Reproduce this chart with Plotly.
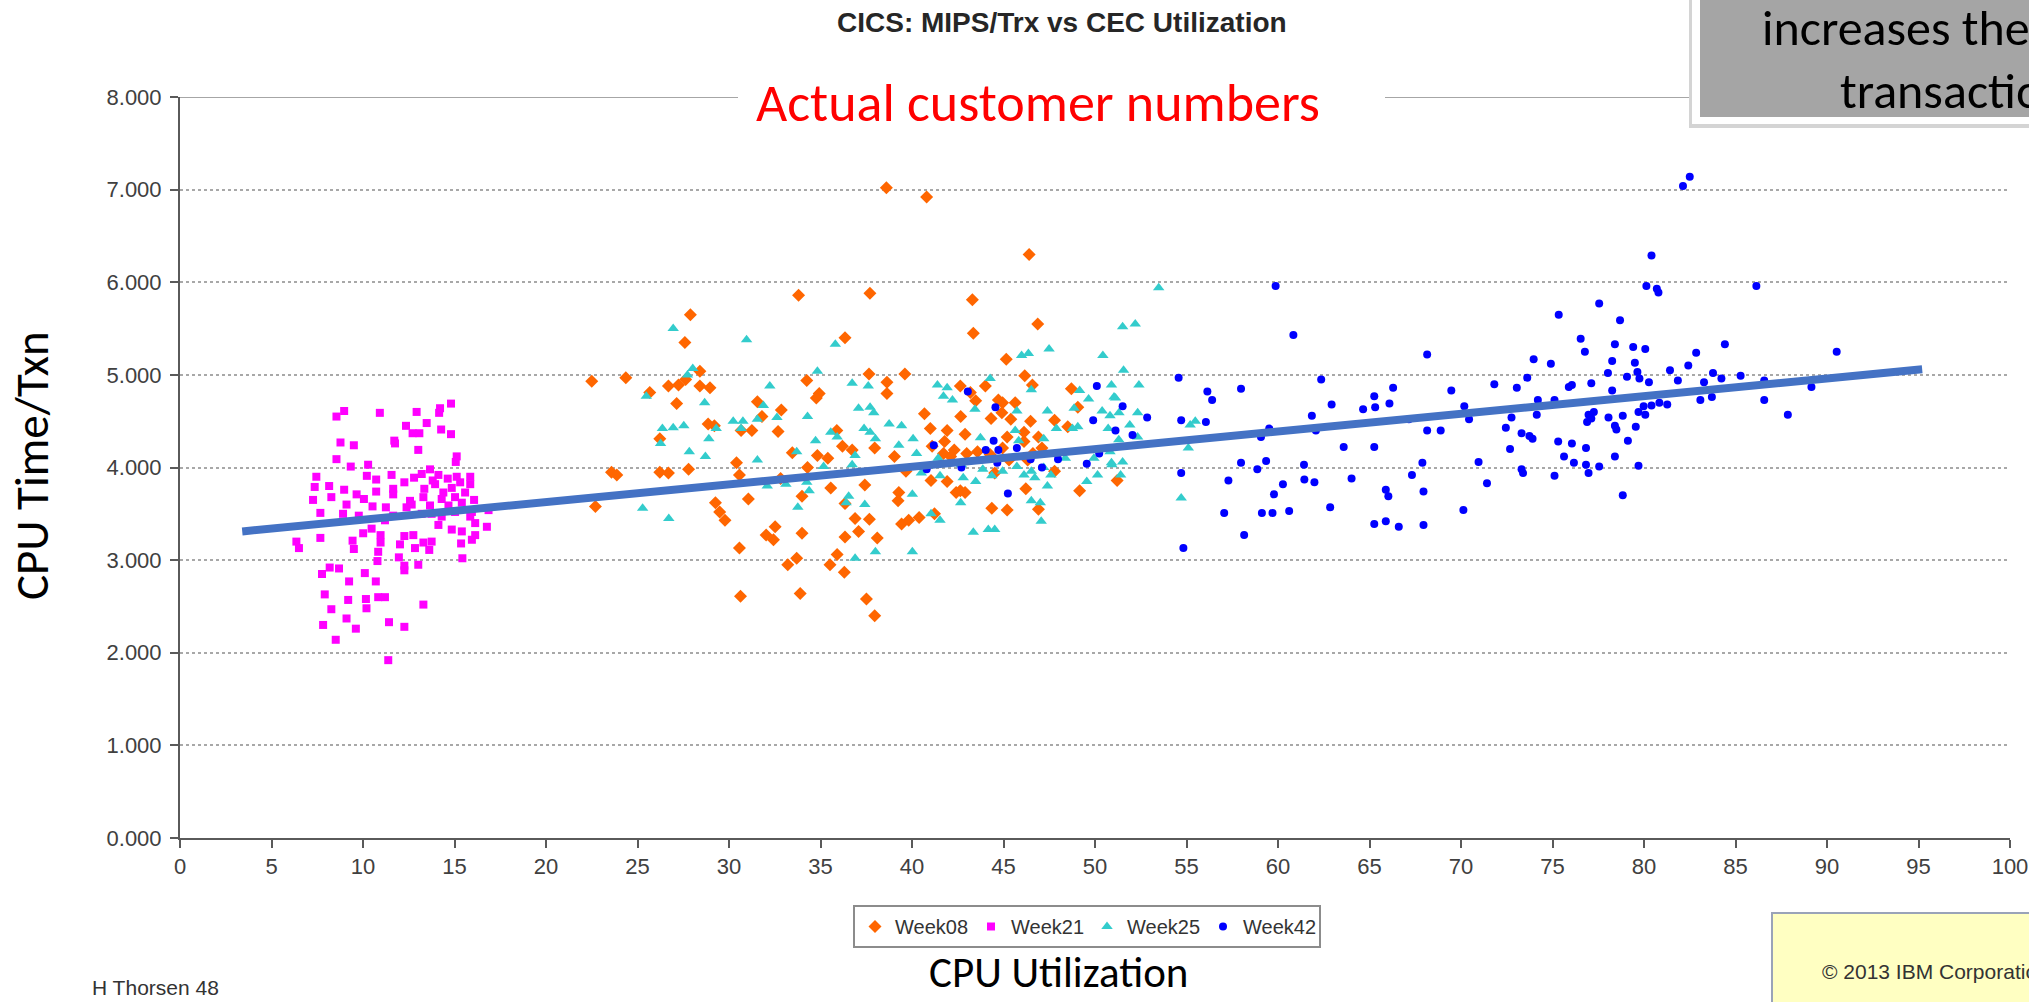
import plotly.graph_objects as go

# ---------------- data (CPU utilization %, CPU time per transaction) ----------------
week08_x = [27.89, 27.59, 36.34, 43.35, 46.87, 45.15, 43.30, 22.50, 24.36, 26.69,
            27.24, 27.63, 28.41, 28.41, 28.96, 25.67, 27.14, 31.55, 34.25, 34.93,
            34.77, 37.65, 38.63, 38.63, 39.61, 42.64, 44.01, 43.19, 43.48, 44.72,
            44.95, 45.64, 46.16, 46.58, 48.71, 49.06, 32.86, 31.80, 40.68, 42.66,
            44.32, 44.91, 45.40, 46.48, 41.00, 41.92, 42.90, 45.20, 46.12, 46.91,
            48.51, 47.79, 26.22, 28.86, 29.20, 30.66, 31.25, 32.68, 35.89, 37.96,
            41.78, 42.31, 43.58, 44.95, 46.12, 46.61, 33.46, 34.83, 35.40, 36.20,
            36.73, 39.04, 41.10, 41.72, 42.11, 42.99, 44.27, 45.30, 46.32, 47.79,
            47.10, 23.58, 23.87, 26.22, 26.69, 27.79, 30.41, 30.57, 32.82, 34.29,
            39.67, 41.04, 41.92, 42.41, 42.90, 44.52, 46.22, 46.91, 49.16, 51.21,
            35.56, 37.42, 39.28, 22.70, 29.26, 31.06, 42.64, 44.36, 45.20, 36.34,
            39.24, 33.99, 29.49, 29.78, 36.89, 37.67, 39.43, 39.82, 40.39, 41.23,
            32.52, 32.03, 32.43, 33.99, 36.34, 37.08, 38.10, 30.57, 35.91, 35.52,
            33.70, 33.21, 36.30, 30.63, 33.89, 37.51, 37.96, 38.60, 40.80, 46.40,
            33.80, 37.70]
week08_y = [5.65, 5.35, 5.40, 5.45, 5.55, 5.17, 5.81, 4.93, 4.97, 4.88,
            4.89, 4.95, 5.04, 4.88, 4.86, 4.81, 4.69, 4.71, 4.94, 4.80,
            4.75, 5.01, 4.92, 4.80, 5.01, 4.88, 4.88, 4.81, 4.72, 4.73,
            4.70, 4.70, 4.99, 4.89, 4.85, 4.65, 4.62, 4.55, 4.58, 4.55,
            4.53, 4.59, 4.52, 4.50, 4.42, 4.40, 4.36, 4.33, 4.38, 4.33,
            4.44, 4.51, 4.31, 4.47, 4.45, 4.40, 4.40, 4.39, 4.40, 4.21,
            4.28, 4.19, 4.17, 4.21, 4.28, 4.15, 4.16, 4.13, 4.10, 4.23,
            4.19, 4.12, 4.23, 4.15, 4.12, 4.15, 4.14, 4.08, 4.08, 3.96,
            4.21, 3.95, 3.92, 3.95, 3.94, 3.98, 4.05, 3.92, 3.88, 4.00,
            3.96, 3.86, 3.85, 3.73, 3.73, 3.94, 3.77, 3.55, 3.75, 3.86,
            3.78, 3.81, 3.73, 3.58, 3.62, 3.66, 3.75, 3.56, 3.54, 3.61,
            3.64, 3.69, 3.52, 3.43, 3.45, 3.44, 3.39, 3.43, 3.46, 3.50,
            3.36, 3.27, 3.22, 3.29, 3.25, 3.31, 3.24, 3.13, 3.06, 2.95,
            3.02, 2.95, 2.87, 2.61, 2.64, 2.58, 2.40, 7.02, 6.92, 6.30,
            5.86, 5.88]

week21_x = [8.97, 8.55, 10.92, 12.93, 14.21, 14.16, 14.81, 12.35, 13.48, 12.71,
            13.08, 14.27, 14.81, 11.71, 11.75, 8.77, 9.50, 13.02, 8.55, 15.12,
            15.07, 9.33, 10.28, 7.45, 10.21, 10.72, 11.56, 12.79, 13.21, 13.66,
            14.12, 13.81, 14.63, 15.12, 15.86, 7.36, 8.15, 8.97, 9.65, 10.72,
            11.65, 12.26, 13.35, 13.94, 14.39, 14.85, 15.31, 15.86, 7.27, 8.27,
            10.05, 9.10, 10.52, 11.25, 11.65, 12.57, 13.30, 14.30, 15.03, 15.58,
            16.07, 7.67, 8.91, 9.77, 12.38, 12.66, 13.66, 14.67, 15.40, 15.95,
            16.86, 10.47, 11.20, 11.65, 13.21, 13.75, 14.30, 15.03, 15.86, 16.13,
            16.77, 6.36, 6.50, 7.67, 9.43, 9.50, 10.01, 10.96, 10.96, 12.02,
            12.26, 12.75, 12.84, 13.30, 13.75, 14.12, 14.85, 15.40, 15.36, 15.95,
            16.13, 10.83, 10.79, 11.96, 12.26, 12.26, 13.02, 13.62, 15.43, 8.18,
            8.69, 7.76, 10.10, 9.24, 10.70, 7.91, 9.19, 10.16, 10.83, 11.20,
            10.19, 13.30, 8.27, 9.10, 11.42, 12.26, 7.82, 9.61, 8.51, 11.38]
week21_y = [4.61, 4.55, 4.59, 4.60, 4.64, 4.59, 4.69, 4.45, 4.48, 4.37,
            4.37, 4.41, 4.36, 4.29, 4.26, 4.27, 4.24, 4.19, 4.09, 4.12,
            4.06, 4.01, 4.03, 3.90, 3.91, 3.87, 3.92, 3.89, 3.93, 3.98,
            3.92, 3.86, 3.88, 3.90, 3.90, 3.79, 3.80, 3.76, 3.71, 3.74,
            3.77, 3.84, 3.77, 3.82, 3.73, 3.78, 3.84, 3.82, 3.65, 3.68,
            3.66, 3.60, 3.58, 3.57, 3.71, 3.64, 3.68, 3.66, 3.68, 3.73,
            3.65, 3.51, 3.50, 3.48, 3.57, 3.60, 3.59, 3.59, 3.62, 3.52,
            3.54, 3.34, 3.43, 3.48, 3.50, 3.50, 3.47, 3.52, 3.47, 3.40,
            3.36, 3.20, 3.13, 3.24, 3.21, 3.12, 3.29, 3.27, 3.19, 3.17,
            3.26, 3.27, 3.13, 3.19, 3.20, 3.38, 3.33, 3.31, 3.18, 3.22,
            3.27, 3.09, 2.99, 3.03, 2.94, 2.89, 2.95, 3.11, 3.02, 2.92,
            2.91, 2.85, 2.86, 2.77, 2.77, 2.63, 2.57, 2.58, 2.60, 2.60,
            2.48, 2.52, 2.47, 2.37, 2.33, 2.28, 2.30, 2.26, 2.14, 1.92]

week25_x = [26.95, 30.96, 35.81, 47.49, 45.99, 46.36, 50.43, 51.51, 34.83, 28.02,
            27.73, 25.48, 28.67, 32.23, 41.39, 41.92, 41.72, 42.21, 44.27, 46.52,
            49.16, 36.73, 37.61, 37.08, 37.71, 37.91, 31.88, 32.62, 34.29, 43.44,
            45.73, 47.40, 48.86, 49.65, 50.39, 50.82, 51.12, 26.36, 26.95, 27.53,
            29.30, 30.23, 30.76, 30.66, 31.55, 28.90, 37.38, 38.00, 38.75, 39.43,
            43.74, 45.64, 45.83, 47.20, 47.89, 48.77, 49.06, 50.72, 51.31, 26.26,
            27.83, 28.71, 31.55, 33.70, 34.73, 35.56, 35.91, 36.89, 37.71, 39.28,
            40.06, 40.25, 41.43, 42.70, 43.87, 44.36, 43.48, 44.95, 45.73, 46.52,
            47.20, 47.59, 48.38, 49.94, 50.92, 40.51, 41.53, 42.80, 35.17, 36.73,
            46.12, 46.71, 47.40, 49.55, 50.14, 32.09, 33.11, 34.25, 34.38, 36.54,
            36.40, 37.42, 40.02, 42.66, 46.52, 47.01, 41.04, 41.53, 33.76, 25.28,
            26.71, 43.35, 44.17, 44.52, 47.06, 38.00, 40.02, 36.89, 51.51, 50.82,
            53.48, 52.20, 51.56, 50.90, 52.40, 51.04, 52.33, 55.48, 55.20, 51.90,
            51.30, 52.33, 50.90, 55.10, 51.40, 54.71]
week25_y = [5.50, 5.38, 5.33, 5.28, 5.21, 5.23, 5.21, 5.52, 5.04, 5.07,
            5.00, 4.77, 4.70, 4.88, 4.89, 4.86, 4.77, 4.73, 4.96, 4.84,
            4.83, 4.91, 4.88, 4.64, 4.65, 4.59, 4.67, 4.54, 4.55, 4.63,
            4.61, 4.61, 4.64, 4.74, 4.61, 4.56, 4.75, 4.42, 4.43, 4.45,
            4.42, 4.50, 4.50, 4.42, 4.52, 4.31, 4.42, 4.31, 4.47, 4.45,
            4.32, 4.40, 4.29, 4.31, 4.42, 4.42, 4.44, 4.42, 4.59, 4.26,
            4.17, 4.12, 4.08, 4.17, 4.29, 4.38, 4.33, 4.13, 4.38, 4.24,
            4.31, 4.15, 4.10, 4.03, 3.98, 3.91, 3.85, 3.96, 4.01, 3.96,
            4.00, 3.92, 4.10, 4.10, 4.03, 3.94, 3.91, 3.89, 4.01, 4.03,
            3.92, 3.89, 3.80, 3.85, 3.92, 3.80, 3.82, 3.84, 3.75, 3.69,
            3.62, 3.60, 3.71, 3.62, 3.64, 3.62, 3.50, 3.43, 3.57, 3.56,
            3.45, 3.30, 3.33, 3.33, 3.42, 3.09, 3.09, 3.02, 4.06, 4.17,
            5.94, 5.55, 5.05, 4.89, 4.89, 4.76, 4.59, 4.50, 4.46, 4.46,
            4.30, 4.33, 4.05, 4.21, 3.92, 3.67]

week42_x = [43.05, 44.56, 50.10, 51.51, 49.90, 51.12, 41.19, 44.03, 44.72, 45.73,
            44.46, 40.80, 42.70, 46.48, 47.10, 47.98, 49.55, 50.23, 45.24, 44.66,
            82.50, 82.13, 80.41, 80.13, 80.70, 80.79, 86.14, 59.87, 77.55, 75.34,
            78.69, 60.84, 76.54, 76.77, 79.41, 80.07, 82.85, 84.42, 90.53, 78.41,
            68.15, 73.97, 74.91, 78.26, 79.50, 78.03, 79.64, 79.75, 81.42, 82.42,
            54.57, 62.36, 73.62, 79.07, 80.27, 81.85, 83.28, 83.77, 84.23, 85.28,
            86.57, 71.82, 73.05, 66.29, 69.47, 75.89, 77.12, 56.14, 56.40, 57.98,
            76.06, 78.26, 89.15, 65.26, 66.09, 62.93, 64.65, 65.31, 70.18, 74.20,
            75.11, 80.84, 81.27, 83.08, 83.71, 86.57, 52.85, 54.71, 56.06, 61.85,
            62.07, 59.07, 59.52, 63.59, 65.26, 67.15, 68.15, 68.89, 70.44, 72.45,
            72.76, 74.14, 73.31, 73.74, 73.91, 76.97, 77.26, 77.12, 78.06, 78.84,
            76.89, 78.41, 78.49, 79.55, 79.70, 80.07, 79.98, 80.41, 87.86, 72.68,
            75.31, 76.06, 75.63, 76.83, 78.41, 79.12, 52.05, 54.71, 57.29, 58.87,
            59.35, 57.98, 61.42, 60.27, 61.44, 61.99, 64.02, 67.32, 67.89, 70.96,
            71.42, 73.31, 73.39, 75.11, 76.17, 76.97, 76.83, 77.55, 79.70, 59.78,
            62.85, 65.89, 66.03, 67.95, 70.13, 78.84, 57.06, 59.12, 59.70, 60.61,
            65.26, 65.89, 66.60, 67.95, 58.15, 54.83]
week42_y = [4.82, 4.65, 4.88, 4.66, 4.51, 4.40, 4.24, 4.19, 4.19, 4.21,
            4.29, 3.98, 4.00, 4.09, 4.00, 4.09, 4.04, 4.15, 3.72, 4.05,
            7.14, 7.04, 6.29, 5.96, 5.93, 5.89, 5.96, 5.96, 5.77, 5.65,
            5.59, 5.43, 5.39, 5.25, 5.30, 5.28, 5.24, 5.33, 5.25, 5.33,
            5.22, 5.17, 5.12, 5.15, 5.13, 5.02, 5.03, 4.96, 5.05, 5.10,
            4.97, 4.95, 4.97, 4.98, 4.92, 4.94, 4.92, 5.02, 4.96, 4.99,
            4.94, 4.90, 4.86, 4.86, 4.83, 4.87, 4.91, 4.82, 4.73, 4.85,
            4.89, 4.83, 4.87, 4.77, 4.69, 4.68, 4.63, 4.65, 4.66, 4.73,
            4.73, 4.70, 4.68, 4.73, 4.76, 4.73, 4.54, 4.51, 4.49, 4.56,
            4.40, 4.33, 4.42, 4.22, 4.22, 4.52, 4.40, 4.40, 4.52, 4.43,
            4.54, 4.57, 4.37, 4.34, 4.31, 4.57, 4.60, 4.53, 4.54, 4.56,
            4.49, 4.45, 4.41, 4.44, 4.60, 4.57, 4.66, 4.67, 4.57, 4.20,
            4.28, 4.26, 4.12, 4.21, 4.12, 4.29, 4.35, 3.94, 3.86, 3.98,
            4.07, 4.05, 4.03, 3.82, 3.87, 3.84, 3.88, 3.92, 4.05, 4.06,
            3.83, 3.98, 3.94, 3.91, 4.05, 3.94, 4.03, 4.01, 4.02, 3.71,
            3.57, 3.76, 3.69, 3.74, 3.54, 3.70, 3.51, 3.51, 3.51, 3.53,
            3.39, 3.42, 3.36, 3.38, 3.27, 3.13]

trend_x = [3.4, 95.2]
trend_y = [3.31, 5.06]

x_ticks = list(range(0, 101, 5))
y_ticks = [0, 1, 2, 3, 4, 5, 6, 7, 8]

# ---------------- figure geometry helpers (pixel -> paper) ----------------
W, H = 2029, 1002
ML, MR, MT, MB = 180, 19, 97, 164
PW, PH = W - ML - MR, H - MT - MB


def px(xp):
    return (xp - ML) / PW


def py(yp):
    return (MT + PH - yp) / PH


CAL = "Carlito, Calibri, Lato, sans-serif"
ARI = "Arial, Liberation Sans, sans-serif"

fig = go.Figure()


def pairs(xs, ys):
    n = min(len(xs), len(ys))
    return xs[:n], ys[:n]


series = [
    ("Week08", week08_x, week08_y, "diamond", "#FF6600", 10),
    ("Week21", week21_x, week21_y, "square", "#FF00FF", 8),
    ("Week25", week25_x, week25_y, "triangle-up", "#33CCCC", 10),
    ("Week42", week42_x, week42_y, "circle", "#0000FF", 8),
]
for name, xs, ys, sym, col, size in series:
    xx, yy = pairs(xs, ys)
    fig.add_trace(go.Scatter(
        x=xx, y=yy, mode="markers", name=name,
        marker=dict(symbol=sym, color=col, size=size, line=dict(width=0)),
    ))

fig.add_trace(go.Scatter(
    x=trend_x, y=trend_y, mode="lines", showlegend=False,
    line=dict(color="#4472C4", width=8), hoverinfo="skip",
))

fig.update_xaxes(
    range=[0, 100], tickvals=x_ticks, ticktext=[str(v) for v in x_ticks],
    showgrid=False, zeroline=False,
    showline=True, linecolor="#5a5a5a", linewidth=2,
    ticks="outside", ticklen=8, tickwidth=1.5, tickcolor="#5a5a5a",
    tickfont=dict(family=ARI, size=22, color="#404040"),
)
fig.update_yaxes(
    range=[0, 8], tickvals=y_ticks, ticktext=["%.3f" % v for v in y_ticks],
    showgrid=True, gridcolor="#a8a8a8", gridwidth=1.5, griddash="dot",
    zeroline=False,
    showline=True, linecolor="#5a5a5a", linewidth=2,
    ticks="outside", ticklen=8, tickwidth=1.5, tickcolor="#5a5a5a",
    ticklabelstandoff=4,
    tickfont=dict(family=ARI, size=22, color="#404040"),
)

shapes = [
    # solid top border at 8.000 (interrupted by the red caption)
    dict(type="line", xref="paper", yref="y", x0=0, x1=px(738), y0=8, y1=8,
         line=dict(color="#a6a6a6", width=2)),
    dict(type="line", xref="paper", yref="y", x0=px(1385), x1=1.0, y0=8, y1=8,
         line=dict(color="#a6a6a6", width=2)),
    # grey call-out box (top right)
    dict(type="rect", xref="paper", yref="paper", x0=px(1689), x1=px(2060),
         y0=py(128), y1=py(-20), fillcolor="#d4d4d4", line=dict(width=0), layer="above"),
    dict(type="rect", xref="paper", yref="paper", x0=px(1692), x1=px(2060),
         y0=py(124), y1=py(-20), fillcolor="#ffffff", line=dict(width=0), layer="above"),
    dict(type="rect", xref="paper", yref="paper", x0=px(1700), x1=px(2060),
         y0=py(117), y1=py(-20), fillcolor="#a5a5a5", line=dict(width=0), layer="above"),
    # yellow footer box (bottom right)
    dict(type="rect", xref="paper", yref="paper", x0=px(1772), x1=px(2060),
         y0=py(1030), y1=py(913), fillcolor="#FFFFC2",
         line=dict(color="#9AA3B8", width=2), layer="above"),
]

annotations = [
    dict(text="<b>CICS: MIPS/Trx vs CEC Utilization</b>", x=px(1062), y=py(22),
         font=dict(family=ARI, size=28, color="#262626")),
    dict(text="Actual customer numbers", x=px(1038), y=py(103),
         font=dict(family=CAL, size=54, color="#FF0000")),
    dict(text="CPU Time/Txn", x=px(32), y=py(466), textangle=-90,
         font=dict(family=CAL, size=47, color="#000000")),
    dict(text="CPU Utilization", x=px(1058), y=py(1001), yanchor="bottom",
         font=dict(family=CAL, size=43, color="#000000")),
    dict(text="H Thorsen 48", x=px(90), y=py(988), xanchor="left",
         font=dict(family=ARI, size=21, color="#333333")),
    dict(text="© 2013 IBM Corporation", x=px(1820), y=py(971), xanchor="left",
         font=dict(family=ARI, size=21, color="#333333")),
    dict(text="increases the", x=px(1760), y=py(27), xanchor="left",
         font=dict(family=CAL, size=50, color="#000000")),
    dict(text="transaction", x=px(1838), y=py(90), xanchor="left",
         font=dict(family=CAL, size=50, color="#000000")),
]
for a in annotations:
    a.setdefault("xanchor", "center")
    a.setdefault("yanchor", "middle")
    a.update(xref="paper", yref="paper", showarrow=False)

fig.update_layout(
    width=W, height=H,
    margin=dict(l=ML, r=MR, t=MT, b=MB, pad=0, autoexpand=False),
    paper_bgcolor="white", plot_bgcolor="white",
    shapes=shapes, annotations=annotations,
    showlegend=True,
    legend=dict(
        orientation="h", x=px(853), xanchor="left", y=py(905), yanchor="top",
        bgcolor="white", bordercolor="#8c8c8c", borderwidth=2,
        font=dict(family=ARI, size=20, color="#333333"),
        entrywidth=71, entrywidthmode="pixels", tracegroupgap=0,
    ),
)

fig.write_html(
    "out.html",
    config={"displayModeBar": False},
    post_script="document.body.style.margin='0';document.body.style.overflow='hidden';",
)
